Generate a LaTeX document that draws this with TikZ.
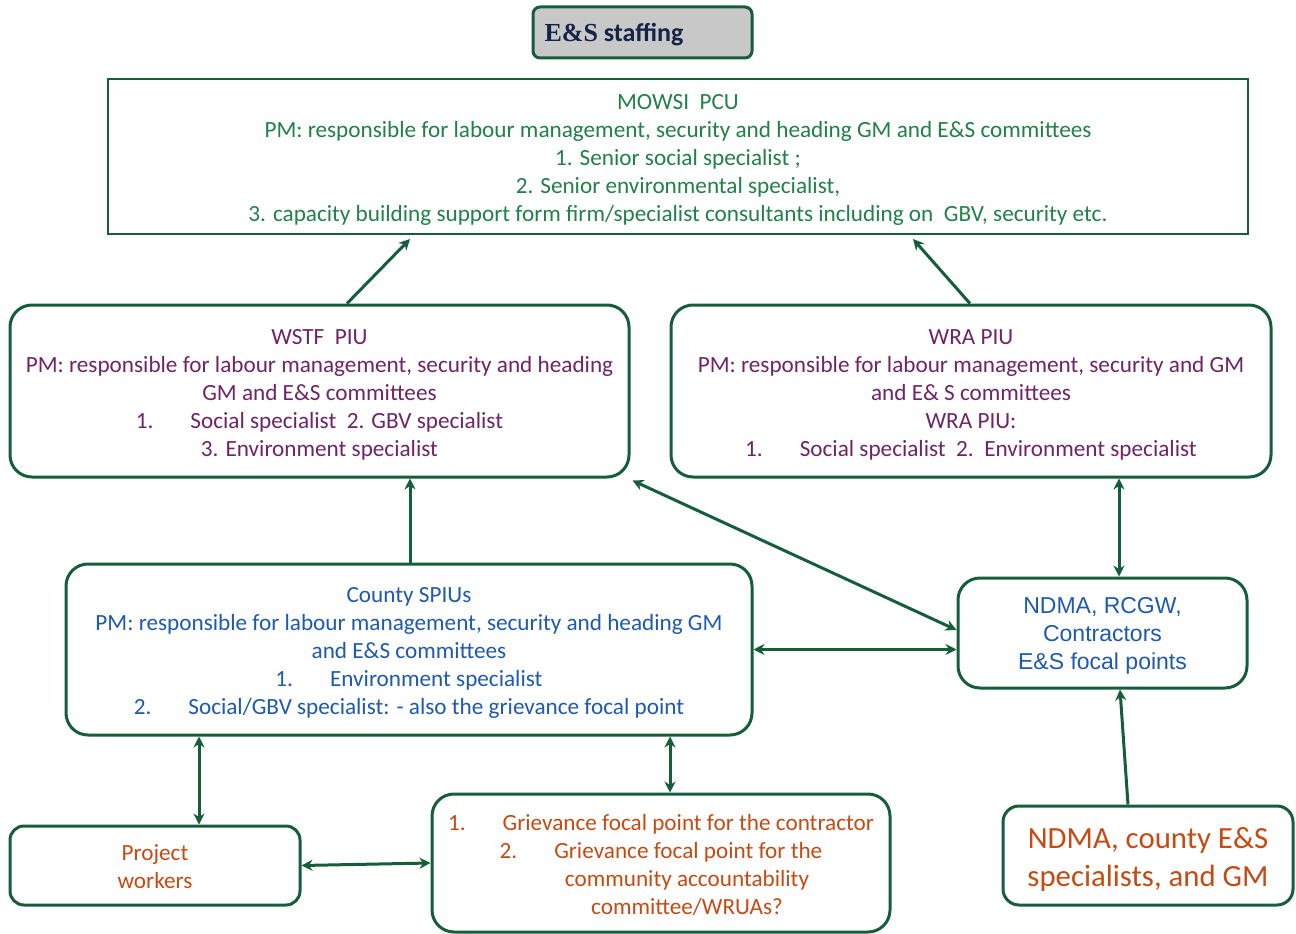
\documentclass[tikz,border=0pt]{standalone}
\usepackage{fontspec}
\setmainfont{Carlito}
\newfontfamily\arialf{Liberation Sans}
\newfontfamily\serifb{Liberation Serif}
\usetikzlibrary{arrows.meta}
\definecolor{bordg}{RGB}{22,94,58}
\definecolor{txtg}{RGB}{34,128,72}
\definecolor{txtp}{RGB}{112,36,104}
\definecolor{txtb}{RGB}{30,90,175}
\definecolor{txto}{RGB}{197,75,20}
\definecolor{navy}{RGB}{20,35,70}
\definecolor{titlefill}{RGB}{200,200,200}
\tikzset{
  rbox/.style={draw=bordg, line width=3pt, rounded corners=22pt, align=center, inner sep=0pt, fill=white},
  sbox/.style={draw=bordg, line width=2pt, align=center, inner sep=0pt, fill=white},
  arr/.style={draw=bordg, line width=3pt, -{Stealth[length=11pt,width=11pt]}},
  darr/.style={draw=bordg, line width=3pt, {Stealth[length=11pt,width=11pt]}-{Stealth[length=11pt,width=11pt]}},
  cal/.style={font=\fontsize{23.2}{28}\selectfont},
}
\newcommand{\tb}{\hspace{37pt}}
\newcommand{\up}[1]{\rule{0pt}{#1pt}}
\begin{document}
\begin{tikzpicture}[x=1pt,y=-1pt]
\fill[white] (0,0) rectangle (1296,934);
\useasboundingbox (0,0) rectangle (1296,934);
% title
\node[draw=bordg, fill=titlefill, line width=3pt, rounded corners=7pt, minimum width=219pt, minimum height=51pt, inner sep=0pt, text=navy, font=\fontsize{26}{28}\selectfont\bfseries] (title) at (642.5,32.5) {\up{22}\hspace*{-57pt}{\serifb E\&S} staffing};
% MOWSI
\node[sbox, cal, text=txtg, minimum width=1140pt, minimum height=155pt] (mowsi) at (678,156.5)
{\up{22}MOWSI\ \ PCU\\PM: responsible for labour management, security and heading GM and E\&S committees\\1. Senior social specialist ;\\2. Senior environmental specialist,\\3. capacity building support form firm/specialist consultants including on\ \ GBV, security etc.};
% WSTF
\node[rbox, cal, text=txtp, minimum width=619pt, minimum height=172pt] (wstf) at (319.5,391)
{\up{22}WSTF\ \ PIU\\PM: responsible for labour management, security and heading\\GM and E\&S committees\\1.\tb Social specialist\ \ 2. GBV specialist\\3. Environment specialist};
% WRA
\node[rbox, cal, text=txtp, minimum width=600pt, minimum height=172pt] (wra) at (971,391)
{\up{22}WRA PIU\\PM: responsible for labour management, security and GM\\and E\& S committees\\WRA PIU:\\1.\tb Social specialist\ \ 2.\ \ Environment specialist};
% County
\node[rbox, cal, text=txtb, minimum width=686pt, minimum height=171pt] (county) at (409,649.5)
{\up{22}County SPIUs\\PM: responsible for labour management, security and heading GM\\and E\&S committees\\1.\tb Environment specialist\\2.\tb Social/GBV specialist: - also the grievance focal point};
% NDMA focal points
\node[rbox, text=txtb, minimum width=289pt, minimum height=110pt, font=\arialf\fontsize{23}{28}\selectfont] (ndma) at (1102.5,633)
{\up{22}NDMA, RCGW,\\Contractors\\E\&S focal points};
% Project workers
\node[rbox, cal, text=txto, minimum width=290pt, minimum height=79pt, rounded corners=14pt] (proj) at (155,865.5)
{\up{19}Project\\workers};
% Grievance
\node[rbox, cal, text=txto, minimum width=458pt, minimum height=138pt] (griev) at (661,863)
{\up{20}1.\tb Grievance focal point for the contractor\\2.\tb Grievance focal point for the\\\hspace*{52pt}community accountability\\\hspace*{52pt}committee/WRUAs?};
% NDMA county
\node[rbox, text=txto, minimum width=290pt, minimum height=99pt, rounded corners=16pt, font=\fontsize{30.8}{38}\selectfont] (ndmac) at (1148,855.5)
{\up{28}NDMA, county E\&S\\specialists, and GM};
% connectors
\draw[arr] ([xshift=27.5pt]wstf.north) -- ([xshift=-268pt,yshift=-4pt]mowsi.south);
\draw[arr] ([xshift=-1pt]wra.north) -- ([xshift=235pt,yshift=-4pt]mowsi.south);
\draw[arr] ([xshift=1pt]county.north) -- ([xshift=90.5pt]wstf.south);
\draw[darr] ([xshift=148pt]wra.south) -- ([xshift=16.5pt]ndma.north);
\draw[darr] ([xshift=2pt,yshift=-2pt]wstf.south east) -- ([yshift=3pt]ndma.west);
\draw[darr] (county.east) -- (county.east -| ndma.west);
\draw[darr] ([xshift=-210pt]county.south) -- ([xshift=44pt]proj.north);
\draw[darr] ([xshift=261pt]county.south) -- ([xshift=9pt]griev.north);
\draw[darr] (proj.east) -- (griev.west);
\draw[arr] ([xshift=-20pt]ndmac.north) -- ([xshift=17.5pt]ndma.south);
\end{tikzpicture}
\end{document}
